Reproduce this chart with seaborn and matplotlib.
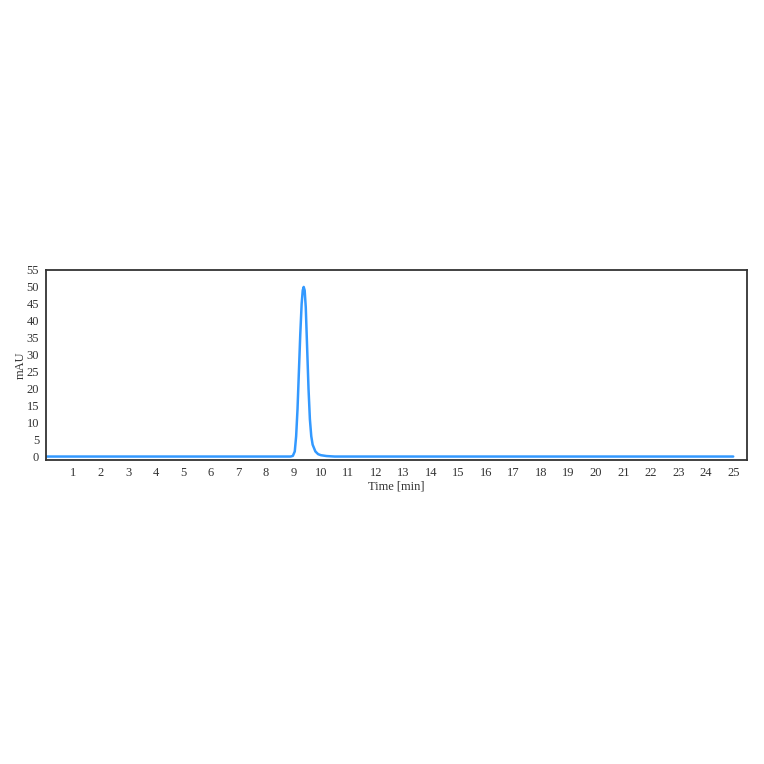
import matplotlib
matplotlib.use("Agg")
import matplotlib.pyplot as plt
import seaborn as sns
import pandas as pd

# chromatogram trace (time in min, signal in mAU)
time_min = [0, 8.9, 8.98, 9.05, 9.1, 9.15, 9.2, 9.25, 9.3, 9.34, 9.375,
            9.41, 9.45, 9.5, 9.55, 9.6, 9.65, 9.7, 9.8, 9.9, 10.0, 10.2,
            10.5, 25]
signal_mau = [0, 0, 0.2, 1.5, 6, 14, 25, 36, 45, 49, 50,
              49, 44, 32, 20, 11, 6, 3.5, 1.5, 0.7, 0.4, 0.15,
              0, 0]
x_ticks = list(range(1, 26))
y_ticks = list(range(0, 60, 5))

df = pd.DataFrame({"time": time_min, "mAU": signal_mau})

sns.set_style("white")
plt.rcParams["font.family"] = ["Liberation Serif", "DejaVu Serif"]

fig = plt.figure(figsize=(7.64, 7.64), dpi=100)
ax = fig.add_axes([0.0602, 0.398, 0.9175, 0.2486])

sns.lineplot(data=df, x="time", y="mAU", ax=ax, color="#3399ff",
             linewidth=1.8, estimator=None)

ax.set_xlim(0, 25.5)
ax.set_ylim(-1, 55)
ax.set_xticks(x_ticks)
ax.set_yticks(y_ticks)
ax.tick_params(axis="both", direction="out", labelsize=9, length=3,
               width=1, color="#333333", labelcolor="#333333", pad=2)
ax.set_xlabel("Time [min]", fontsize=9, color="#333333", labelpad=1)
ax.set_ylabel("mAU", fontsize=9, color="#333333", labelpad=0)
for s in ax.spines.values():
    s.set_color("#333333")
    s.set_linewidth(1.3)

fig.savefig("out.png", dpi=100)
